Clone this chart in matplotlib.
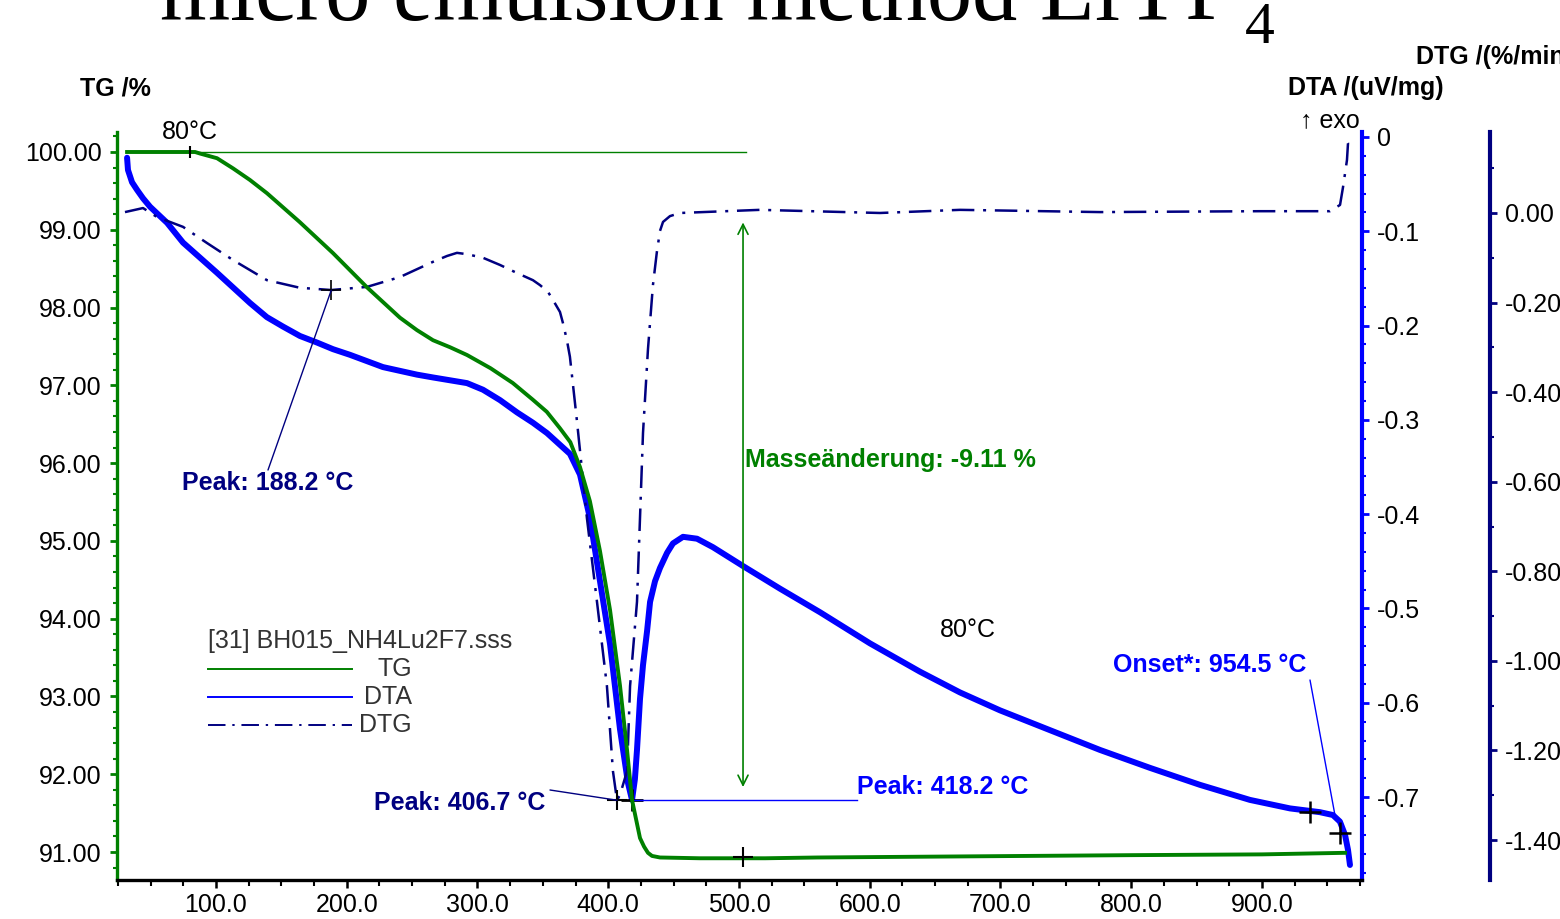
import matplotlib
matplotlib.use('Agg')
import matplotlib.pyplot as plt
from matplotlib.ticker import MultipleLocator, FuncFormatter, FixedLocator

plt.rcParams['font.family'] = ['Liberation Sans', 'DejaVu Sans']
plt.rcParams['axes.unicode_minus'] = False

# ---------------- data ----------------
tg_temp = [32, 84, 87.8, 100.8, 113, 126, 139, 164, 189.5, 215.5,
           240.7, 253.7, 266, 279, 292, 310, 327, 342, 353, 363,
           371, 378.4, 386, 393.7, 401.4, 409, 414.4, 418.2, 424.3, 427.4,
           430.4, 433.5, 439.6, 470, 520, 560, 640, 720, 800, 900, 963.5]
tg_val = [100.00, 100.00, 99.98, 99.92, 99.79, 99.64, 99.47, 99.10, 98.70, 98.26,
          97.87, 97.71, 97.58, 97.49, 97.39, 97.22, 97.03, 96.82, 96.66, 96.45,
          96.27, 95.95, 95.51, 94.87, 94.11, 93.14, 92.31, 91.67, 91.18, 91.07,
          90.99, 90.95, 90.93, 90.92, 90.92, 90.93, 90.94, 90.95, 90.96, 90.97, 90.99]

dta_temp = [32.0, 32.7, 35.8, 39.6, 44.2, 49.6, 62.6, 74.8, 100.8, 126.0,
            138.9, 151.2, 164.2, 177.3, 189.5, 202.5, 227.7, 253.7, 266.0, 292.0,
            304.2, 317.2, 330.2, 342.4, 353.2, 370.7, 378.4, 386.0, 393.7, 401.4,
            409.0, 415.1, 418.2, 420.4, 422.0, 424.3, 426.6, 429.7, 432.0, 435.8,
            439.6, 445.0, 449.5, 457.2, 467.9, 480.1, 503.1, 531.4, 562.0, 600.2,
            638.4, 669.0, 699.6, 737.8, 776.1, 814.3, 852.5, 890.8, 921.4, 944.3,
            954.2, 959.6, 963.5, 965.8, 967.3]
dta_val = [-0.022, -0.035, -0.048, -0.056, -0.065, -0.074, -0.091, -0.112, -0.144, -0.176,
           -0.191, -0.201, -0.211, -0.218, -0.225, -0.231, -0.244, -0.252, -0.255, -0.261,
           -0.268, -0.279, -0.292, -0.303, -0.314, -0.336, -0.358, -0.404, -0.471, -0.538,
           -0.628, -0.685, -0.703, -0.681, -0.650, -0.596, -0.560, -0.524, -0.493, -0.471,
           -0.457, -0.441, -0.431, -0.424, -0.426, -0.435, -0.455, -0.479, -0.504, -0.537,
           -0.567, -0.589, -0.608, -0.629, -0.650, -0.669, -0.687, -0.703, -0.712, -0.716,
           -0.719, -0.726, -0.740, -0.756, -0.772]

dtg_temp = [30.4, 44.2, 54.9, 74.8, 93.1, 113.0, 139.0, 164.2, 188.2, 215.5,
            240.7, 266.0, 276.7, 284.3, 292.0, 304.2, 317.2, 330.2, 342.4, 347.8,
            353.9, 357.7, 363.1, 365.4, 368.4, 370.7, 376.1, 383.7, 391.4, 399.0,
            403.6, 406.7, 409.0, 414.4, 416.7, 422.0, 424.3, 426.6, 430.4, 434.2,
            437.2, 439.6, 441.9, 447.2, 454.9, 516.0, 607.8, 669.0, 776.1, 898.5,
            952.0, 959.7, 962.0, 965.0, 965.8, 963.5]
dtg_val = [0.002, 0.011, -0.009, -0.031, -0.067, -0.105, -0.150, -0.167, -0.172, -0.165,
           -0.143, -0.109, -0.096, -0.089, -0.092, -0.100, -0.116, -0.134, -0.150, -0.161,
           -0.176, -0.194, -0.221, -0.246, -0.284, -0.321, -0.465, -0.681, -0.868, -1.056,
           -1.246, -1.311, -1.299, -1.246, -1.056, -0.868, -0.681, -0.491, -0.304, -0.161,
           -0.087, -0.040, -0.020, -0.007, 0.000, 0.007, 0.000, 0.007, 0.002, 0.004,
           0.004, 0.018, 0.058, 0.118, 0.156, 0.170]

x_ticks = [100, 200, 300, 400, 500, 600, 700, 800, 900]
tg_ticks = [91, 92, 93, 94, 95, 96, 97, 98, 99, 100]
dta_ticks = [0, -0.1, -0.2, -0.3, -0.4, -0.5, -0.6, -0.7]
dtg_ticks = [0.0, -0.2, -0.4, -0.6, -0.8, -1.0, -1.2, -1.4]

# characteristic points
peak_dtg1 = (188.2, -0.172)
peak_dtg2 = (406.7, -1.311)
peak_dta = (418.2, -0.703)
onset_pts_t = [936.7, 959.6]
onset_pts_v = [-0.716, -0.738]
tg_start_mark = (80, 100.0)
tg_step_mark = (503.1, 90.93)
mass_change = -9.11

GREEN = '#008000'
BLUE = '#0000ff'
NAVY = '#000080'
DASHDOT = (0, (9, 3.5, 1.2, 3.5))

W, H = 1560, 919
L, R, B, T = 117, 1362, 879.5, 132
fig = plt.figure(figsize=(W / 100, H / 100), dpi=100)
ax = fig.add_axes([L / W, 1 - B / H, (R - L) / W, (B - T) / H])
ax2 = ax.twinx()
ax3 = ax.twinx()


def fx(px):
    return (px - L) / (R - L)


def fy(py):
    return (B - py) / (B - T)


for a in (ax, ax2, ax3):
    a.patch.set_visible(False)
    for s in a.spines.values():
        s.set_visible(False)
ax.set_zorder(3)
ax3.set_zorder(2)
ax2.set_zorder(1)

# limits
ax.set_xlim(24.3, 976.5)
ax.set_ylim(90.647, 100.257)
ax2.set_ylim(-0.7874, 0.0053)
ax3.set_ylim(-1.488, 0.1808)

# curves
ax2.plot(dta_temp, dta_val, color=BLUE, lw=4.3, solid_capstyle='round', solid_joinstyle='round')
ax3.plot(dtg_temp, dtg_val, color=NAVY, lw=1.8, linestyle=DASHDOT)
ax.plot(tg_temp, tg_val, color=GREEN, lw=2.8, solid_joinstyle='round')

# spines
ax.spines['left'].set_visible(True)
ax.spines['left'].set_color(GREEN)
ax.spines['left'].set_linewidth(2.4)
ax.spines['bottom'].set_visible(True)
ax.spines['bottom'].set_color('black')
ax.spines['bottom'].set_linewidth(2.4)
ax2.spines['right'].set_visible(True)
ax2.spines['right'].set_color(BLUE)
ax2.spines['right'].set_linewidth(3.0)
ax3.spines['right'].set_visible(True)
ax3.spines['right'].set_color(NAVY)
ax3.spines['right'].set_linewidth(3.0)
ax3.spines['right'].set_position(('outward', 128 * 72 / 100))

# ticks
ax.xaxis.set_major_locator(FixedLocator(x_ticks))
ax.xaxis.set_minor_locator(MultipleLocator(25))
ax.xaxis.set_major_formatter(FuncFormatter(lambda v, p: f'{v:.1f}'))
ax.tick_params(axis='x', which='major', length=6, width=1.8, direction='out', labelsize=18, pad=4, color='black')
ax.tick_params(axis='x', which='minor', length=4, width=1.5, direction='out', color='black')

ax.yaxis.set_major_locator(FixedLocator(tg_ticks))
ax.yaxis.set_minor_locator(MultipleLocator(0.2))
ax.yaxis.set_major_formatter(FuncFormatter(lambda v, p: f'{v:.2f}'))
ax.tick_params(axis='y', which='major', length=5, width=2.0, direction='out', labelsize=18, pad=6, color=GREEN)
ax.tick_params(axis='y', which='minor', length=3, width=1.5, direction='out', color=GREEN)
ax.tick_params(axis='y', right=False)

ax2.yaxis.set_major_locator(FixedLocator(dta_ticks))
ax2.yaxis.set_minor_locator(MultipleLocator(0.02))
ax2.yaxis.set_major_formatter(FuncFormatter(lambda v, p: '0' if abs(v) < 1e-9 else f'{v:.1f}'))
ax2.tick_params(axis='y', which='major', length=5, width=2.0, direction='out', labelsize=18, pad=6, color=BLUE)
ax2.tick_params(axis='y', which='minor', length=3, width=1.5, direction='out', color=BLUE)

ax3.yaxis.set_major_locator(FixedLocator(dtg_ticks))
ax3.yaxis.set_minor_locator(MultipleLocator(0.1))
ax3.yaxis.set_major_formatter(FuncFormatter(lambda v, p: f'{v:.2f}'))
ax3.tick_params(axis='y', which='major', length=5, width=2.0, direction='out', labelsize=18, pad=6, color=NAVY)
ax3.tick_params(axis='y', which='minor', length=3, width=1.5, direction='out', color=NAVY)

# reference line, mass-change arrow
ax.plot([tg_temp[0], 505], [100.0, 100.0], color=GREEN, lw=1.0)
ax.annotate('', xy=(tg_step_mark[0], 91.80), xytext=(tg_step_mark[0], 99.13),
            arrowprops=dict(arrowstyle='<->', color=GREEN, lw=1.2, mutation_scale=18))
ax.text(fx(745), fy(460), f'Masseänderung: {mass_change:.2f} %', transform=ax.transAxes,
        color=GREEN, fontsize=18, weight='bold', va='center', ha='left')

# markers
ax.plot(*tg_start_mark, marker='|', ms=8, mew=1.5, color='black')
ax.plot(*tg_step_mark, marker='+', ms=14, mew=1.5, color='black')
ax3.plot(*peak_dtg1, marker='+', ms=14, mew=1.2, color='black')
ax3.plot(*peak_dtg2, marker='+', ms=14, mew=1.5, color='black')
ax2.plot(*peak_dta, marker='+', ms=16, mew=2.0, color='black')
ax2.plot(onset_pts_t, onset_pts_v, linestyle='none', marker='+', ms=16, mew=1.8, color='black')

# annotation texts and leader lines
ax.text(fx(162), fy(132), '80°C', transform=ax.transAxes, fontsize=18, va='center', ha='left')
ax.text(fx(940), fy(630), '80°C', transform=ax.transAxes, fontsize=18, va='center', ha='left')

ax3.annotate(f'Peak: {peak_dtg1[0]:.1f} °C', xy=peak_dtg1, xytext=(fx(182), fy(483)),
             textcoords='axes fraction', fontsize=18, weight='bold', color=NAVY, va='center', ha='left')
ax3.annotate('', xy=peak_dtg1, xytext=(fx(268), fy(470)), textcoords='axes fraction',
             arrowprops=dict(arrowstyle='-', color=NAVY, lw=1.0, shrinkA=0, shrinkB=0))

ax3.annotate(f'Peak: {peak_dtg2[0]:.1f} °C', xy=peak_dtg2, xytext=(fx(374), fy(803)),
             textcoords='axes fraction', fontsize=18, weight='bold', color=NAVY, va='center', ha='left')
ax3.annotate('', xy=peak_dtg2, xytext=(fx(550), fy(790)), textcoords='axes fraction',
             arrowprops=dict(arrowstyle='-', color=NAVY, lw=1.0, shrinkA=0, shrinkB=0))

ax2.plot([peak_dta[0], 590.4], [peak_dta[1], peak_dta[1]], color=BLUE, lw=1.0)
ax2.text(fx(857), fy(787), f'Peak: {peak_dta[0]:.1f} °C', transform=ax2.transAxes,
         fontsize=18, weight='bold', color=BLUE, va='center', ha='left')

ax2.annotate('Onset*: 954.5 °C', xy=(955.8, -0.719), xytext=(fx(1113), fy(665)),
             textcoords='axes fraction', fontsize=18, weight='bold', color=BLUE, va='center', ha='left')
ax2.annotate('', xy=(955.8, -0.719), xytext=(fx(1310), fy(680)), textcoords='axes fraction',
             arrowprops=dict(arrowstyle='-', color=BLUE, lw=1.0, shrinkA=0, shrinkB=0))

# legend (drawn by hand like the instrument software)
ax.text(fx(208), fy(641), '[31] BH015_NH4Lu2F7.sss', transform=ax.transAxes, fontsize=18,
        color='#333333', va='center', ha='left')
leg_items = [('TG', GREEN, '-', 669), ('DTA', BLUE, '-', 697), ('DTG', NAVY, DASHDOT, 725)]
for name, col, ls, py in leg_items:
    ax.plot([fx(208), fx(352)], [fy(py), fy(py)], transform=ax.transAxes, color=col, lw=1.4,
            linestyle=ls, clip_on=False)
    ax.text(fx(412), fy(py), name, transform=ax.transAxes, fontsize=18, color='#333333',
            va='center', ha='right')

# axis titles
fig.text(80 / W, 1 - 88 / H, 'TG /%', fontsize=18, weight='bold', va='center', ha='left')
fig.text(1288 / W, 1 - 88 / H, 'DTA /(uV/mg)', fontsize=18, weight='bold', va='center', ha='left')
fig.text(1416 / W, 1 - 57 / H, 'DTG /(%/min)', fontsize=18, weight='bold', va='center', ha='left')
fig.text(1300 / W, 1 - 120 / H, '↑ exo', fontsize=18, va='center', ha='left')

# main title (partly cut off at the top, as in the reference)
fig.text(160 / W, 1 - 20 / H, 'micro emulsion method LiYF', family='Liberation Serif',
         fontsize=65, va='baseline', ha='left')
fig.text(1245 / W, 1 - 43 / H, '4', family='Liberation Serif', fontsize=43, va='baseline', ha='left')

fig.savefig('out.png', dpi=100)
